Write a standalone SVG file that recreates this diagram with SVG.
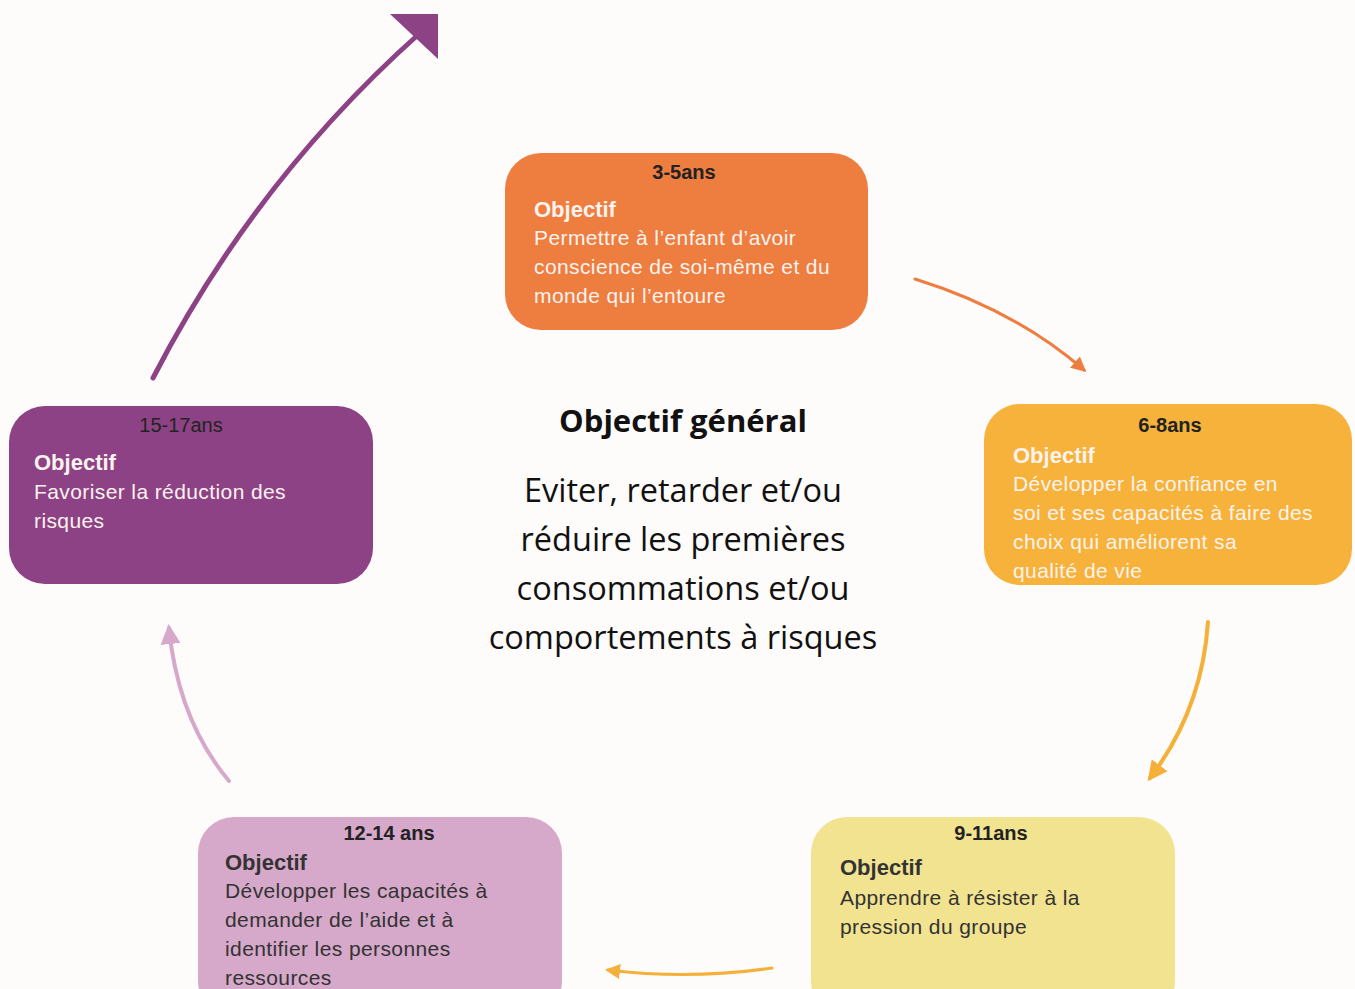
<svg xmlns="http://www.w3.org/2000/svg" width="1355" height="989" viewBox="0 0 1355 989">
<defs>
<style>
.hd{font-family:"Liberation Sans",Arial,sans-serif;font-size:20px;font-weight:bold;fill:#222;text-anchor:middle}
.ob{font-family:"Liberation Sans",Arial,sans-serif;font-size:22px;font-weight:bold}
.bd{font-family:"Liberation Sans",Arial,sans-serif;font-size:21px;letter-spacing:0.4px}
.w{fill:#fdf3ee}
.d{fill:#333}
.ct{font-family:"Open Sans","Liberation Sans",sans-serif;fill:#111;text-anchor:middle}
.ln{fill:none;stroke-linecap:round}
</style>
<marker id="mO" viewBox="0 0 10 10" refX="8" refY="5" markerWidth="5" markerHeight="5" orient="auto" markerUnits="strokeWidth"><path d="M0,0 L10,5 L0,10 z" fill="#ee7d40"/></marker>
<marker id="mY" viewBox="0 0 10 10" refX="8" refY="5" markerWidth="5" markerHeight="5" orient="auto" markerUnits="strokeWidth"><path d="M0,0 L10,5 L0,10 z" fill="#f5b03a"/></marker>
<marker id="mP" viewBox="0 0 10 10" refX="8" refY="5" markerWidth="5" markerHeight="5" orient="auto" markerUnits="strokeWidth"><path d="M0,0 L10,5 L0,10 z" fill="#d6a8c9"/></marker>
</defs>
<rect width="1355" height="989" fill="#fefcfb"/>
<g id="connectors">
<path class="ln" d="M915,279 Q1015,310 1084,370" stroke="#ee7d40" stroke-width="3" marker-end="url(#mO)"/>
<path class="ln" d="M1208,622 Q1202,710 1150,778" stroke="#f5b03a" stroke-width="4" marker-end="url(#mY)"/>
<path class="ln" d="M772,968 Q690,980 608,970" stroke="#f5b03a" stroke-width="3" marker-end="url(#mY)"/>
<path class="ln" d="M229,781 Q178,720 169,628" stroke="#d6a8c9" stroke-width="4" marker-end="url(#mP)"/>
<path class="ln" d="M153,378 Q255,180 420,33" stroke="#8d4285" stroke-width="5"/>
<path d="M390,14 L438,14 L438,59 z" fill="#8d4285"/>
</g>
<g id="node-3-5">
<rect x="505" y="153" width="363" height="177" rx="36" fill="#ee7d40"/>
<text class="hd" x="684" y="179">3-5ans</text>
<text class="ob w" x="534" y="217">Objectif</text>
<text class="bd w" x="534" y="245">Permettre à l’enfant d’avoir</text>
<text class="bd w" x="534" y="274">conscience de soi-même et du</text>
<text class="bd w" x="534" y="303">monde qui l’entoure</text>
</g>
<g id="node-6-8">
<rect x="984" y="404" width="368" height="181" rx="36" fill="#f6b23a"/>
<text class="hd" x="1170" y="432">6-8ans</text>
<text class="ob w" x="1013" y="463">Objectif</text>
<text class="bd w" x="1013" y="491">Développer la confiance en</text>
<text class="bd w" x="1013" y="520">soi et ses capacités à faire des</text>
<text class="bd w" x="1013" y="549">choix qui améliorent sa</text>
<text class="bd w" x="1013" y="578">qualité de vie</text>
</g>
<g id="node-9-11">
<rect x="811" y="817" width="364" height="200" rx="36" fill="#f2e391"/>
<text class="hd" x="991" y="840">9-11ans</text>
<text class="ob d" x="840" y="875">Objectif</text>
<text class="bd d" x="840" y="905">Apprendre à résister à la</text>
<text class="bd d" x="840" y="934">pression du groupe</text>
</g>
<g id="node-12-14">
<rect x="198" y="817" width="364" height="200" rx="36" fill="#d6a8c9"/>
<text class="hd" x="389" y="840">12-14 ans</text>
<text class="ob d" x="225" y="870">Objectif</text>
<text class="bd d" x="225" y="898">Développer les capacités à</text>
<text class="bd d" x="225" y="927">demander de l’aide et à</text>
<text class="bd d" x="225" y="956">identifier les personnes</text>
<text class="bd d" x="225" y="985">ressources</text>
</g>
<g id="node-15-17">
<rect x="9" y="406" width="364" height="178" rx="36" fill="#8d4285"/>
<text class="hd" x="181" y="432" style="font-weight:normal">15-17ans</text>
<text class="ob w" x="34" y="470">Objectif</text>
<text class="bd w" x="34" y="499">Favoriser la réduction des</text>
<text class="bd w" x="34" y="528">risques</text>
</g>
<g id="center">
<text class="ct" x="683" y="432" font-size="31" font-weight="bold">Objectif général</text>
<text class="ct" x="683" y="502" font-size="32.5">Eviter, retarder et/ou</text>
<text class="ct" x="683" y="551" font-size="32.5">réduire les premières</text>
<text class="ct" x="683" y="600" font-size="32.5">consommations et/ou</text>
<text class="ct" x="683" y="649" font-size="32.5">comportements à risques</text>
</g>
</svg>
